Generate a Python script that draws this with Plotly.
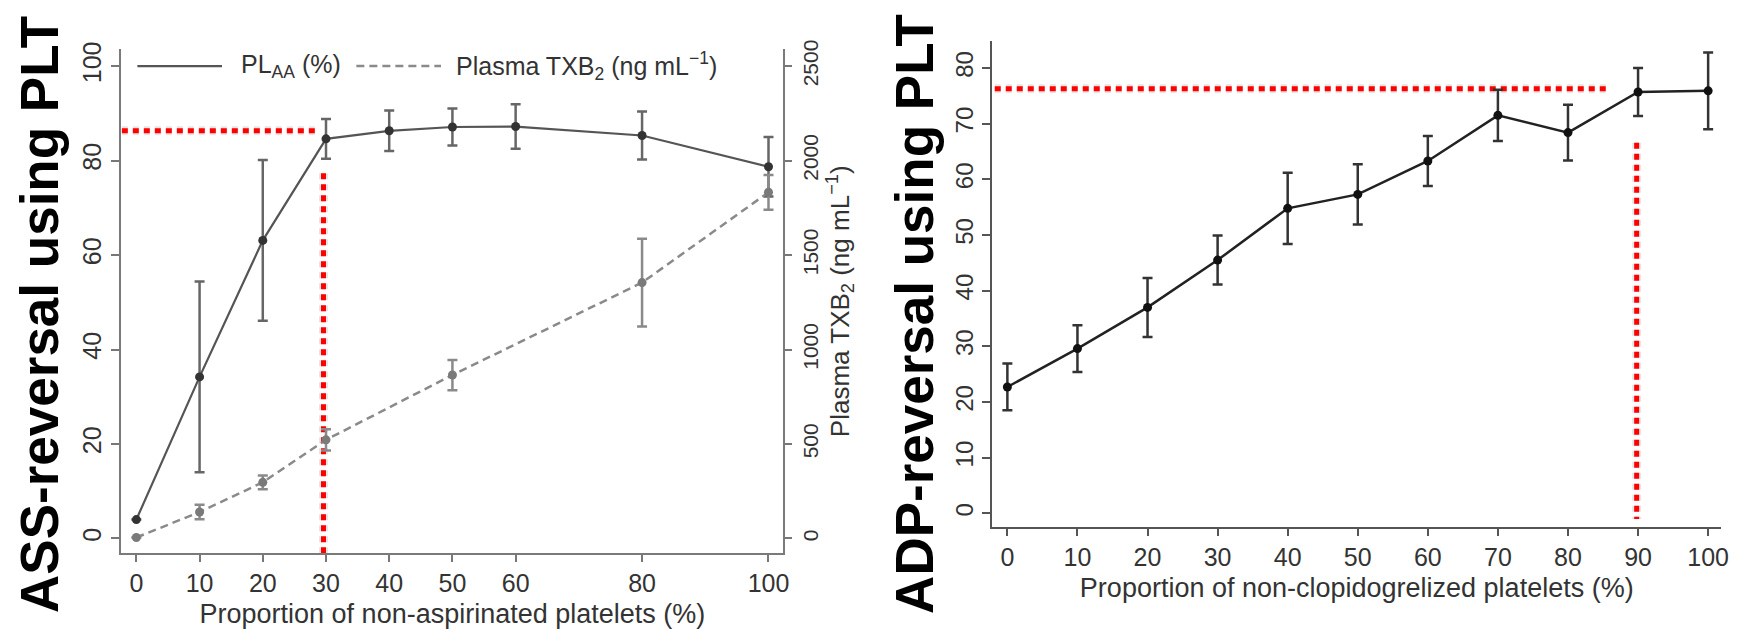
import plotly.graph_objects as go

W, H = 1752, 629

# ---------------- data (left: aspirin) ----------------
asp_x_pl = [0, 10, 20, 30, 40, 50, 60, 80, 100]
pl_aa = [4.0, 34.2, 63.1, 84.6, 86.3, 87.1, 87.2, 85.3, 78.7]
pl_aa_err = [0, 20.2, 17.0, 4.2, 4.3, 3.9, 4.7, 5.1, 6.3]

asp_x_txb = [0, 10, 20, 30, 50, 80, 100]
txb2 = [5, 140, 297, 522, 865, 1354, 1832]
txb2_err = [0, 38, 36, 56, 80, 232, 92]

asp_xticks = [0, 10, 20, 30, 40, 50, 60, 80, 100]
pl_yticks = [0, 20, 40, 60, 80, 100]
txb_yticks = [0, 500, 1000, 1500, 2000, 2500]

# ---------------- data (right: clopidogrel) ----------------
clo_x = [0, 10, 20, 30, 40, 50, 60, 70, 80, 90, 100]
adp = [22.7, 29.6, 37.0, 45.5, 54.8, 57.3, 63.3, 71.5, 68.4, 75.7, 75.9]
adp_err = [4.2, 4.2, 5.3, 4.4, 6.4, 5.4, 4.5, 4.6, 5.0, 4.3, 6.9]
clo_yticks = [0, 10, 20, 30, 40, 50, 60, 70, 80]

# threshold (red dotted) guide values
asp_h = dict(x=[-2.3, 28.6], y=[86.3, 86.3])
asp_v = dict(x=[29.6, 29.6], y=[77.3, -3.1])
clo_h = dict(x=[-1.8, 85.7], y=[76.3, 76.3])
clo_v = dict(x=[89.8, 89.8], y=[66.6, -1.0])

FONT = "Liberation Sans, Arial, Helvetica, sans-serif"


def px(xp):
    return xp / W


def py(yp):
    return 1 - yp / H


fig = go.Figure()

# red guide lines with soft shadow
for g, xa, ya in [(asp_h, "x", "y"), (asp_v, "x", "y"), (clo_h, "x2", "y3"), (clo_v, "x2", "y3")]:
    fig.add_trace(go.Scatter(x=g["x"], y=g["y"], mode="lines", xaxis=xa, yaxis=ya,
                             line=dict(color="rgba(0,0,0,0.10)", width=9, dash="6px,5px"),
                             showlegend=False, hoverinfo="skip"))
    fig.add_trace(go.Scatter(x=g["x"], y=g["y"], mode="lines", xaxis=xa, yaxis=ya,
                             line=dict(color="#ff0000", width=5, dash="6px,5px"),
                             showlegend=False, hoverinfo="skip"))

# TXB2 (dashed)
fig.add_trace(go.Scatter(
    x=asp_x_txb, y=txb2, mode="lines+markers", xaxis="x", yaxis="y2",
    line=dict(color="#8a8a8a", width=2.5, dash="8px,5px"),
    marker=dict(color="#7a7a7a", size=9),
    error_y=dict(type="data", array=txb2_err, visible=True, color="#8a8a8a", thickness=2.5, width=5),
    showlegend=False))

# PL_AA (solid)
fig.add_trace(go.Scatter(
    x=asp_x_pl, y=pl_aa, mode="lines+markers", xaxis="x", yaxis="y",
    line=dict(color="#555555", width=2.2),
    marker=dict(color="#333333", size=9),
    error_y=dict(type="data", array=pl_aa_err, visible=True, color="#666666", thickness=2.5, width=5),
    showlegend=False))

# ADP reversal
fig.add_trace(go.Scatter(
    x=clo_x, y=adp, mode="lines+markers", xaxis="x2", yaxis="y3",
    line=dict(color="#222222", width=2.5),
    marker=dict(color="#111111", size=9),
    error_y=dict(type="data", array=adp_err, visible=True, color="#333333", thickness=2.5, width=5),
    showlegend=False))

tickfont = dict(family=FONT, size=25, color="#333333")
titlefont = dict(family=FONT, size=27, color="#333333")

fig.update_layout(
    width=W, height=H,
    margin=dict(l=0, r=0, t=0, b=0),
    paper_bgcolor="white", plot_bgcolor="white",
    showlegend=False,
    xaxis=dict(domain=[px(122), px(787)], range=[-2.36, 102.36], anchor="y",
               tickvals=asp_xticks, ticks="outside", ticklen=7, tickwidth=1.5, tickcolor="#777",
               showline=True, linecolor="#7a7a7a", linewidth=2, showgrid=False, zeroline=False,
               tickfont=tickfont,
               title=dict(text="Proportion of non-aspirinated platelets (%)", font=titlefont, standoff=8)),
    yaxis=dict(domain=[py(552), py(40)], range=[-3.125, 103.54], anchor="x",
               tickvals=pl_yticks, ticks="outside", ticklen=8, tickwidth=1.5, tickcolor="#777",
               showline=True, linecolor="#7a7a7a", linewidth=2, showgrid=False, zeroline=False,
               tickangle=-90, tickfont=tickfont),
    yaxis2=dict(overlaying="y", side="right", anchor="x", range=[-78.1, 2588.5],
                tickvals=txb_yticks, ticks="outside", ticklen=7, tickwidth=1.5, tickcolor="#777",
                showline=True, linecolor="#7a7a7a", linewidth=2, showgrid=False, zeroline=False,
                tickangle=-90, tickfont=dict(family=FONT, size=21, color="#333333"),
                title=dict(text="Plasma TXB<sub>2</sub> (ng mL<sup>\u22121</sup>)",
                           font=dict(family=FONT, size=26, color="#333333"), standoff=6)),
    xaxis2=dict(domain=[px(997), px(1729)], range=[-2.13, 101.85], anchor="y3",
                tickvals=clo_x, ticks="outside", ticklen=7, tickwidth=1.5, tickcolor="#555",
                showline=True, linecolor="#555555", linewidth=2, showgrid=False, zeroline=False,
                tickfont=tickfont,
                title=dict(text="Proportion of non-clopidogrelized platelets (%)", font=titlefont, standoff=8)),
    yaxis3=dict(domain=[py(525), py(32)], range=[-2.39, 84.77], anchor="x2",
                tickvals=clo_yticks, ticks="outside", ticklen=8, tickwidth=1.5, tickcolor="#555",
                showline=True, linecolor="#555555", linewidth=2, showgrid=False, zeroline=False,
                tickangle=-90, tickfont=dict(family=FONT, size=24, color="#333333")),
)

# manual legend (left chart)
fig.add_shape(type="line", xref="paper", yref="paper", x0=px(138), x1=px(223), y0=py(57), y1=py(57),
              line=dict(color="#555555", width=2.2))
fig.add_shape(type="line", xref="paper", yref="paper", x0=px(358), x1=px(443), y0=py(57), y1=py(57),
              line=dict(color="#8a8a8a", width=2.5, dash="8px,5px"))
fig.add_annotation(xref="paper", yref="paper", x=px(240), y=py(57), xanchor="left", yanchor="middle",
                   text="PL<sub>AA</sub> (%)", showarrow=False, font=dict(family=FONT, size=25, color="#333333"))
fig.add_annotation(xref="paper", yref="paper", x=px(456), y=py(57), xanchor="left", yanchor="middle",
                   text="Plasma TXB<sub>2</sub> (ng mL<sup>\u22121</sup>)", showarrow=False,
                   font=dict(family=FONT, size=25, color="#333333"))

# big rotated labels
fig.add_annotation(xref="paper", yref="paper", x=px(39), y=py(309), xanchor="center", yanchor="middle",
                   text="<b>ASS-reversal using PLT</b>", textangle=-90, showarrow=False,
                   font=dict(family=FONT, size=53, color="black"))
fig.add_annotation(xref="paper", yref="paper", x=px(918), y=py(309), xanchor="center", yanchor="middle",
                   text="<b>ADP-reversal using PLT</b>", textangle=-90, showarrow=False,
                   font=dict(family=FONT, size=53, color="black"))

fig.write_html("out.html")
